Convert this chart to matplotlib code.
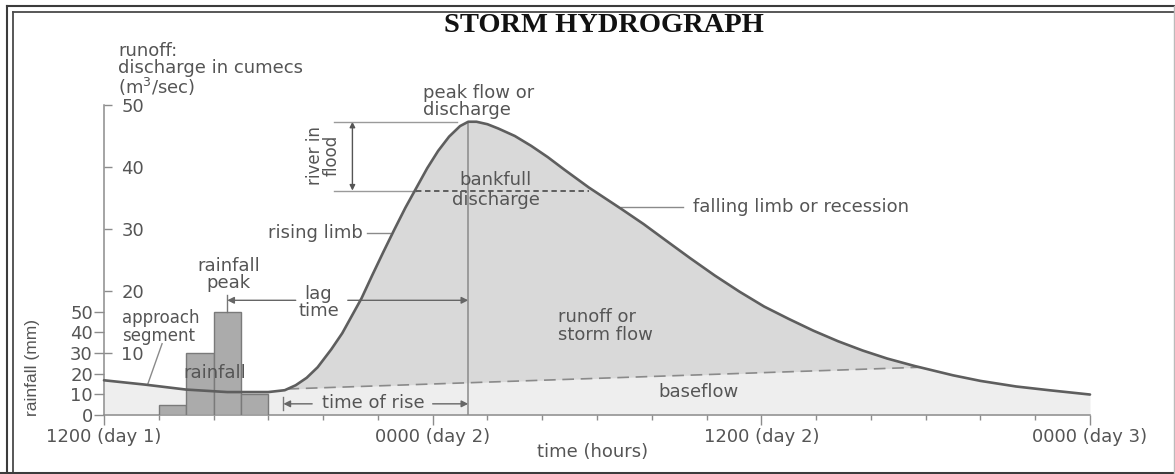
import numpy as np
import matplotlib
matplotlib.use("Agg")
import matplotlib.pyplot as plt
from matplotlib.lines import Line2D

# ---------------- data ----------------
hours = [0, 1.5, 3, 4.5, 6, 6.6, 7.0, 7.4, 7.8, 8.3, 8.7, 9.0, 9.4, 9.8, 10.2,
         10.6, 11.0, 11.4, 11.8, 12.2, 12.6, 13.0, 13.3, 13.6, 14.0, 14.4, 15.0,
         15.6, 16.2, 16.8, 17.7, 18.9, 19.7, 20.5, 21.4, 22.3, 23.2, 24.1, 25.0,
         25.9, 26.8, 27.7, 28.6, 29.6, 31, 32, 33.3, 34.5, 36]
discharge = [5.6, 4.9, 4.1, 3.7, 3.7, 4.0, 4.8, 6.0, 7.7, 10.6, 13.2, 15.6, 18.8,
             22.6, 26.3, 29.9, 33.4, 36.6, 39.8, 42.6, 44.9, 46.6, 47.3, 47.3, 46.9,
             46.2, 45.0, 43.4, 41.6, 39.6, 36.7, 33.2, 30.8, 28.2, 25.3, 22.5, 19.9,
             17.5, 15.5, 13.6, 11.9, 10.4, 9.1, 7.9, 6.4, 5.5, 4.6, 4.0, 3.3]
rain_start_hours = [2, 3, 4, 5]
rainfall_mm = [5, 30, 50, 10]
baseflow_hours = [6.7, 29.8]
baseflow_cumecs = [4.2, 7.7]
peak_hour = 13.3
peak_discharge = 47.3
bankfull = 36.2
bankfull_hours = [11.4, 17.7]
rain_peak_hour = 4.5
rise_start_hour = 6.55
discharge_ticks = [10, 20, 30, 40, 50]
rain_ticks = [0, 10, 20, 30, 40, 50]
x_major = [0, 12, 24, 36]
x_labels = ["1200 (day 1)", "0000 (day 2)", "1200 (day 2)", "0000 (day 3)"]
x_minor = list(range(0, 37, 2))
MM_PER_CUMEC = 3

# ---------------- styling ----------------
W, H = 1175, 474
FS = 13
TC = "#555555"
FAM = ["DejaVu Sans"]

fig = plt.figure(figsize=(W / 100, H / 100), dpi=100)


def fx(px):
    return px / W


def fy(py):
    return 1 - py / H


ax = fig.add_axes([fx(104), fy(415), fx(1090) - fx(104), fy(105) - fy(415)])
ax.set_xlim(0, 36)
ax.set_ylim(0, 50)
ax.patch.set_alpha(0)
for s in ("top", "right"):
    ax.spines[s].set_visible(False)
for s in ("left", "bottom"):
    ax.spines[s].set_color("#8c8c8c")
    ax.spines[s].set_linewidth(1.1)

# fills
ax.fill_between(hours, discharge, 0, color="#eeeeee", lw=0, zorder=1)
h = np.array(hours)
xs = np.concatenate([[baseflow_hours[0]],
                     h[(h > baseflow_hours[0]) & (h < baseflow_hours[1])],
                     [baseflow_hours[1]]])
top = np.interp(xs, hours, discharge)
bot = np.interp(xs, baseflow_hours, baseflow_cumecs)
ax.fill_between(xs, top, bot, color="#d9d9d9", lw=0, zorder=1.5)

# rainfall bars (in cumec units via the rainfall scale)
ax.bar(rain_start_hours, np.array(rainfall_mm) / MM_PER_CUMEC, width=1, align="edge",
       color="#ababab", edgecolor="#7a7a7a", lw=1, zorder=3)

# hydrograph curve and baseflow
ax.plot(hours, discharge, color="#5e5e5e", lw=1.9, zorder=6,
        solid_joinstyle="round", solid_capstyle="round", clip_on=False)
ax.plot(baseflow_hours, baseflow_cumecs, color="#8a8a8a", lw=1.2,
        dashes=(7, 4), zorder=4)

# peak vertical line
ax.plot([peak_hour, peak_hour], [0, peak_discharge], color="#8a8a8a", lw=1.1, zorder=4)

# river in flood markers
ax.plot([8.38, 12.9], [peak_discharge] * 2, color="#9a9a9a", lw=1, zorder=4, clip_on=False)
ax.plot([8.38, bankfull_hours[0]], [bankfull] * 2, color="#9a9a9a", lw=1, zorder=4)
ax.plot(bankfull_hours, [bankfull] * 2, color="#555555", lw=1.3, dashes=(3, 2), zorder=4)
ax.annotate("", xy=(9.07, peak_discharge), xytext=(9.07, bankfull),
            arrowprops=dict(arrowstyle="<|-|>", color="#555555", lw=1,
                            mutation_scale=8, shrinkA=0, shrinkB=0))

# lag time arrows
ax.plot([rain_peak_hour, rain_peak_hour], [rainfall_mm[2] / MM_PER_CUMEC, 19.4],
        color="#777777", lw=1, zorder=4)
ax.annotate("", xy=(rain_peak_hour, 18.5), xytext=(7.0, 18.5),
            arrowprops=dict(arrowstyle="-|>", color="#666666", lw=1,
                            mutation_scale=10, shrinkA=0, shrinkB=0))
ax.annotate("", xy=(peak_hour, 18.5), xytext=(8.9, 18.5),
            arrowprops=dict(arrowstyle="-|>", color="#666666", lw=1,
                            mutation_scale=10, shrinkA=0, shrinkB=0))

# time of rise arrows
ax.plot([rise_start_hour, rise_start_hour], [0.8, 2.9], color="#777777", lw=1, zorder=4)
ax.annotate("", xy=(rise_start_hour, 1.8), xytext=(7.6, 1.8),
            arrowprops=dict(arrowstyle="-|>", color="#666666", lw=1,
                            mutation_scale=10, shrinkA=0, shrinkB=0))
ax.annotate("", xy=(peak_hour, 1.8), xytext=(12.0, 1.8),
            arrowprops=dict(arrowstyle="-|>", color="#666666", lw=1,
                            mutation_scale=10, shrinkA=0, shrinkB=0))

# leader lines
ax.plot([9.62, 10.45], [29.4, 29.4], color="#8a8a8a", lw=1, zorder=4)
ax.plot([18.88, 21.15], [33.5, 33.5], color="#8a8a8a", lw=1, zorder=4)
ax.plot([2.12, 1.6], [11.5, 5.0], color="#8a8a8a", lw=1, zorder=4)


def T(x, y, s, **kw):
    kw.setdefault("fontsize", FS)
    kw.setdefault("color", TC)
    kw.setdefault("family", FAM)
    kw.setdefault("linespacing", 0.95)
    return ax.text(x, y, s, clip_on=False, zorder=7, **kw)


T(11.63, 50.6, "peak flow or\ndischarge", ha="left", va="center")
T(8.01, 41.8, "river in\nflood", ha="center", va="center", rotation=90, fontsize=12)
T(14.3, 36.3, "bankfull\ndischarge", ha="center", va="center", linespacing=1.15)
T(9.44, 29.4, "rising limb", ha="right", va="center")
T(21.5, 33.5, "falling limb or recession", ha="left", va="center")
T(7.83, 18.2, "lag\ntime", ha="center", va="center")
T(4.54, 22.7, "rainfall\npeak", ha="center", va="center")
T(0.66, 14.2, "approach\nsegment", ha="left", va="center", fontsize=12)
T(4.06, 6.8, "rainfall", ha="center", va="center")
T(9.84, 1.9, "time of rise", ha="center", va="center")
T(16.58, 14.35, "runoff or\nstorm flow", ha="left", va="center")
T(21.7, 3.7, "baseflow", ha="center", va="center")

# discharge axis ticks (inside, labels to the right of the spine)
ax.set_yticks(discharge_ticks)
ax.tick_params(axis="y", direction="in", length=5.5, width=1, color="#8c8c8c",
               labelcolor=TC, labelsize=FS, pad=-28.8)

# x axis
ax.set_xticks(x_major, x_labels)
ax.set_xticks(x_minor, minor=True)
ax.tick_params(axis="x", which="major", direction="out", length=7, width=1,
               color="#8c8c8c", labelcolor=TC, labelsize=FS, pad=2)
ax.tick_params(axis="x", which="minor", direction="out", length=3.5, width=1,
               color="#8c8c8c")
for lab in ax.get_xticklabels():
    lab.set_family(FAM)
for lab in ax.get_yticklabels():
    lab.set_family(FAM)

# rainfall axis (same spine, ticks to the left)
sec = ax.secondary_yaxis("left", functions=(lambda d: d * MM_PER_CUMEC,
                                            lambda r: r / MM_PER_CUMEC))
sec.set_yticks(rain_ticks)
sec.spines["left"].set_visible(False)
sec.tick_params(direction="out", length=7, width=1, color="#8c8c8c",
                labelcolor=TC, labelsize=FS, pad=1)
for lab in sec.get_yticklabels():
    lab.set_family(FAM)

# figure-level texts
fig.text(fx(604), fy(25), "STORM HYDROGRAPH", ha="center", va="center",
         fontsize=20.5, fontweight="bold", family=["Liberation Serif", "DejaVu Serif"],
         color="#111111")
fig.text(fx(118), fy(42), "runoff:\ndischarge in cumecs\n(m$^3$/sec)", ha="left",
         va="top", fontsize=FS, color=TC, family=FAM, linespacing=0.95)
fig.text(fx(33), fy(368), "rainfall (mm)", ha="center", va="center", rotation=90,
         fontsize=12.5, color=TC, family=["Liberation Sans", "DejaVu Sans"])
fig.text(fx(593), fy(452), "time (hours)", ha="center", va="center",
         fontsize=FS, color=TC, family=FAM)


# frame (double border)
def fline(x0, y0, x1, y1, **kw):
    fig.add_artist(Line2D([fx(x0), fx(x1)], [fy(y0), fy(y1)],
                          transform=fig.transFigure, **kw))


fline(6.5, 6, 6.5, 474, color="#3c3c3c", lw=1.5)
fline(12.5, 11.5, 12.5, 474, color="#4a4a4a", lw=1.3)
fline(6.5, 6, 1175, 6, color="#3c3c3c", lw=1.5)
fline(12.5, 11.5, 1175, 11.5, color="#4a4a4a", lw=1.3)
fline(0, 472.5, 1175, 472.5, color="#3c3c3c", lw=2.2)
fline(1173.5, 6, 1173.5, 474, color="#bbbbbb", lw=1)

fig.savefig("out.png", dpi=100, facecolor="white")
